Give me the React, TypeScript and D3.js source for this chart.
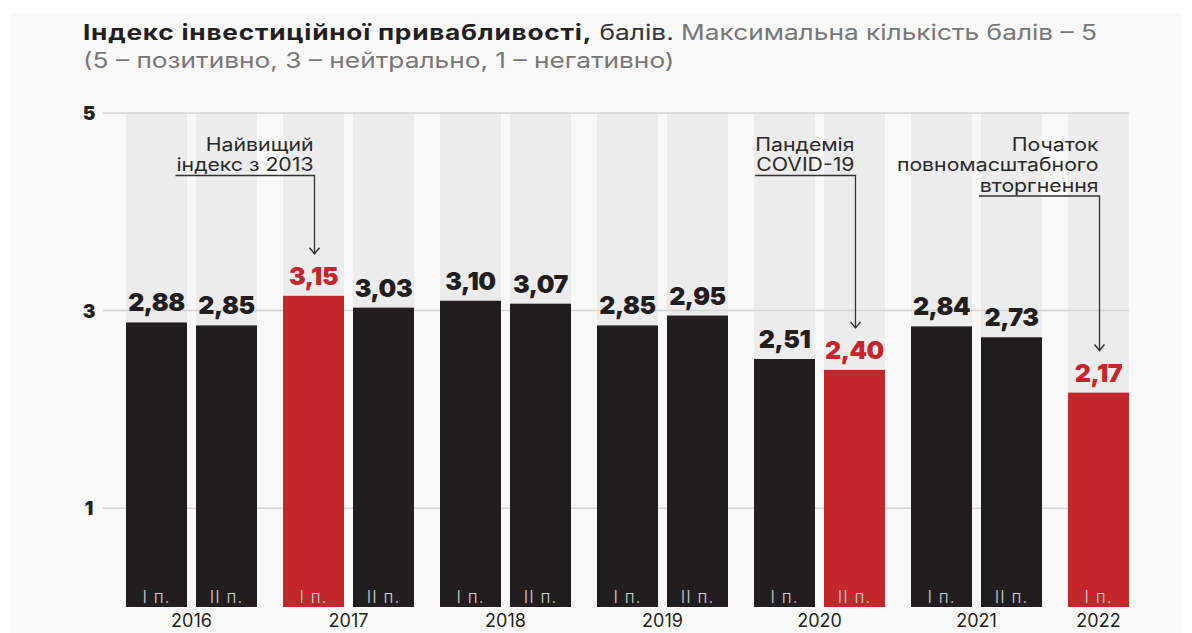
import { useEffect, useRef } from "react";
import * as d3 from "d3";

const years = ["2016", "2017", "2018", "2019", "2020", "2021", "2022"];
const halves = ["I", "II"];
const halfLabels: Record<string, string> = { I: "I п.", II: "II п." };

const periods = [
  { year: "2016", half: "I", value: 2.88, hi: false },
  { year: "2016", half: "II", value: 2.85, hi: false },
  { year: "2017", half: "I", value: 3.15, hi: true },
  { year: "2017", half: "II", value: 3.03, hi: false },
  { year: "2018", half: "I", value: 3.1, hi: false },
  { year: "2018", half: "II", value: 3.07, hi: false },
  { year: "2019", half: "I", value: 2.85, hi: false },
  { year: "2019", half: "II", value: 2.95, hi: false },
  { year: "2020", half: "I", value: 2.51, hi: false },
  { year: "2020", half: "II", value: 2.4, hi: true },
  { year: "2021", half: "I", value: 2.84, hi: false },
  { year: "2021", half: "II", value: 2.73, hi: false },
  { year: "2022", half: "I", value: 2.17, hi: true },
];

const yTicks = [1, 3, 5];

const notes = [
  { year: "2017", half: "I", lines: ["Найвищий", "індекс з 2013"] },
  { year: "2020", half: "II", lines: ["Пандемія", "COVID-19"] },
  { year: "2022", half: "I", lines: ["Початок", "повномасштабного", "вторгнення"] },
];

const W = 1192;
const H = 633;
const BLACK = "#221e1f";
const RED = "#c3262b";
const FONT = "Inter, 'Noto Sans', sans-serif";
const WIDE = 1.18; // horizontal stretch to mimic the wide geometric face

export default function App() {
  const svgRef = useRef<SVGSVGElement>(null);

  useEffect(() => {
    document.body.style.margin = "0";
    if (!svgRef.current) return;
    const svg = d3.select(svgRef.current);
    svg.selectAll("*").remove();

    svg.append("rect").attr("width", W).attr("height", H).attr("fill", "#fff");
    svg.append("rect").attr("x", 10).attr("y", 13).attr("width", W - 20).attr("height", H - 13).attr("fill", "#f9f9f9");

    // title
    const tg = svg.append("g").attr("transform", "translate(83,0) scale(1.25,1)");
    const t1 = tg.append("text").attr("x", 0).attr("y", 40).attr("font-family", FONT).attr("font-size", 21);
    t1.append("tspan").attr("font-weight", 700).attr("letter-spacing", 0.6).attr("fill", "#231f20").text("Індекс інвестиційної привабливості,");
    t1.append("tspan").attr("fill", "#333").text(" балів.");
    t1.append("tspan").attr("fill", "#777").text(" Максимальна кількість балів – 5");
    tg.append("text").attr("x", 0).attr("y", 68).attr("font-family", FONT).attr("font-size", 21)
      .attr("fill", "#777").text("(5 – позитивно, 3 – нейтрально, 1 – негативно)");

    const y = d3.scaleLinear().domain([0, 5]).range([607, 113]);
    const xYear = d3.scaleBand().domain(years).range([126, 126 + 6 * 157 + 131]).paddingInner(26 / 157).paddingOuter(0);
    const xHalf = d3.scaleBand().domain(halves).range([0, xYear.bandwidth()]).paddingInner(9 / 70).paddingOuter(0);
    const bx = (d: { year: string; half: string }) => (xYear(d.year) || 0) + (xHalf(d.half) || 0);
    const bw = xHalf.bandwidth();

    // background columns
    svg.append("g").selectAll("rect").data(periods).join("rect")
      .attr("x", bx).attr("width", bw)
      .attr("y", y(5)).attr("height", y(0) - y(5))
      .attr("fill", "#ececec");

    // gridlines
    svg.append("g").selectAll("line").data(yTicks).join("line")
      .attr("x1", 103).attr("x2", bx(periods[periods.length - 1]) + bw)
      .attr("y1", (d) => y(d)).attr("y2", (d) => y(d))
      .attr("stroke", "#d4d4d4").attr("stroke-width", 1.5);

    svg.append("g").selectAll("text").data(yTicks).join("text")
      .attr("x", 89).attr("y", (d) => y(d) + 7)
      .attr("text-anchor", "middle").attr("font-family", FONT).attr("font-weight", 900)
      .attr("font-size", 19).attr("fill", "#231f20").text((d) => d);

    // bars
    svg.append("g").selectAll("rect").data(periods).join("rect")
      .attr("x", bx).attr("width", bw)
      .attr("y", (d) => y(d.value)).attr("height", (d) => y(0) - y(d.value))
      .attr("fill", (d) => (d.hi ? RED : BLACK));

    // value labels
    svg.append("g").selectAll("text").data(periods).join("text")
      .attr("x", (d) => bx(d) + bw / 2).attr("y", (d) => y(d.value) - 11)
      .attr("text-anchor", "middle").attr("font-family", FONT).attr("font-weight", 900)
      .attr("font-size", 25).attr("letter-spacing", -0.5)
      .attr("fill", (d) => (d.hi ? RED : BLACK))
      .text((d) => d3.format(".2f")(d.value).replace(".", ","));

    // period labels inside bars
    svg.append("g").selectAll("text").data(periods).join("text")
      .attr("x", (d) => bx(d) + bw / 2).attr("y", 603)
      .attr("text-anchor", "middle").attr("font-family", FONT).attr("font-weight", 300)
      .attr("font-size", 17).attr("letter-spacing", 1)
      .attr("fill", "#cfcfcf").text((d) => halfLabels[d.half]);

    // year labels
    svg.append("g").selectAll("text").data(years).join("text")
      .attr("x", (d) => {
        const n = periods.filter((p) => p.year === d).length;
        return (xYear(d) || 0) + (n === 2 ? xYear.bandwidth() / 2 : bw / 2);
      })
      .attr("y", 627).attr("text-anchor", "middle").attr("font-family", FONT)
      .attr("font-size", 18).attr("fill", "#231f20").text((d) => d);

    // annotations
    notes.forEach((n) => {
      const p = periods.find((q) => q.year === n.year && q.half === n.half)!;
      const ax = bx(p) + bw / 2 + 1;
      const g = svg.append("g");
      const tg2 = g.append("g").attr("transform", `translate(${ax - 1},0) scale(${WIDE},1)`);
      let lw = 0;
      n.lines.forEach((line, i) => {
        const t = tg2.append("text").attr("x", 0).attr("y", 151 + i * 20.5)
          .attr("text-anchor", "end").attr("font-family", FONT).attr("font-size", 18)
          .attr("fill", "#2a2a2a").text(line);
        lw = (t.node() as SVGTextElement).getComputedTextLength() * WIDE;
      });
      const uy = 151 + (n.lines.length - 1) * 20.5 + 4;
      const tip = y(p.value) - 42;
      g.append("path")
        .attr("d", `M${ax - 2 - lw},${uy}H${ax}V${tip}`)
        .attr("fill", "none").attr("stroke", "#333").attr("stroke-width", 1.3);
      g.append("path")
        .attr("d", `M${ax - 5},${tip - 6}L${ax},${tip}L${ax + 5},${tip - 6}`)
        .attr("fill", "none").attr("stroke", "#333").attr("stroke-width", 1.5);
    });
  }, []);

  return <svg ref={svgRef} width={W} height={H} style={{ display: "block" }} />;
}
